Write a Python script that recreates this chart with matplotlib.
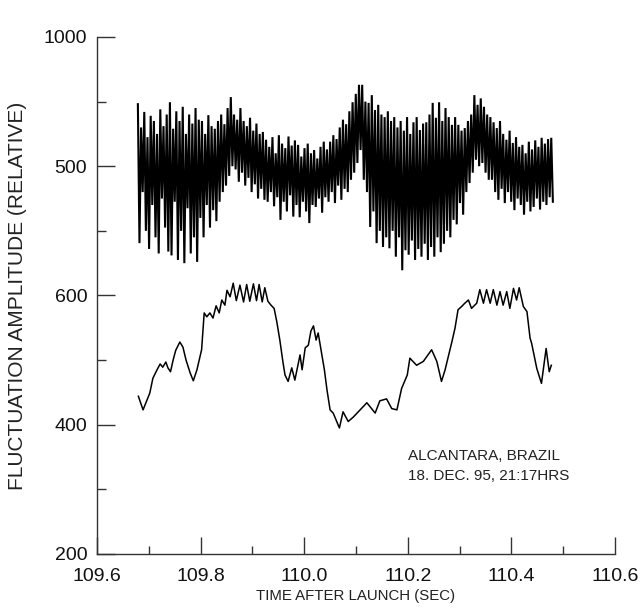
import numpy as np
import matplotlib
matplotlib.use("Agg")
from matplotlib import pyplot as plt
from matplotlib.ticker import MultipleLocator, FixedLocator, FixedFormatter

plt.rcParams['font.family'] = ['Liberation Sans', 'DejaVu Sans']

# upper trace (offset, fast fluctuation): alternating peaks / troughs
t0_alto, t1_alto = 109.679, 110.480
picos = [896, 860, 884, 845, 878, 870, 850, 888, 862, 880,
         899, 858, 885, 870, 892, 850, 880, 866, 890, 872,
         870, 850, 879, 862, 858, 870, 880, 865, 890, 907,
         880, 872, 890, 870, 862, 875, 855, 866, 850, 853,
         841, 830, 845, 820, 848, 835, 828, 846, 832, 840,
         833, 815, 828, 835, 820, 825, 812, 830, 838, 826,
         838, 848, 842, 860, 872, 865, 885, 899, 912, 926,
         926, 900, 898, 910, 887, 895, 880, 876, 885, 870,
         876, 860, 870, 855, 876, 850, 868, 876, 856, 866,
         868, 880, 898, 875, 899, 870, 890, 876, 864, 876,
         864, 855, 859, 870, 880, 910, 895, 905, 892, 880,
         876, 868, 859, 870, 850, 841, 855, 836, 845, 830,
         833, 820, 838, 826, 840, 830, 844, 835, 842, 844]
valles = [681, 760, 700, 672, 740, 690, 665, 750, 705, 668,
          662, 745, 655, 700, 650, 735, 665, 690, 652, 720,
          690, 740, 705, 732, 715, 745, 760, 770, 785, 800,
          795, 776, 790, 770, 782, 760, 772, 750, 765, 748,
          745, 760, 738, 752, 717, 745, 730, 755, 722, 740,
          721, 745, 730, 712, 740, 737, 750, 728, 752, 745,
          760, 743, 770, 748, 765, 760, 779, 790, 805, 825,
          779, 760, 706, 730, 681, 700, 675, 690, 673, 700,
          660, 690, 639, 670, 663, 685, 655, 672, 660, 680,
          655, 675, 660, 690, 667, 680, 700, 690, 717, 710,
          743, 725, 760, 774, 790, 810, 800, 805, 790, 779,
          779, 760, 748, 765, 743, 760, 745, 732, 750, 740,
          725, 745, 730, 737, 750, 733, 745, 740, 752, 745]

# lower trace (slow variation)
t_bajo = [109.680, 109.689, 109.702, 109.708, 109.716, 109.722, 109.727, 109.733,
          109.737, 109.742, 109.747, 109.752, 109.760, 109.766, 109.772, 109.780,
          109.786, 109.793, 109.802, 109.807, 109.812, 109.818, 109.824, 109.830,
          109.836, 109.841, 109.847, 109.851, 109.857, 109.863, 109.869, 109.876,
          109.883, 109.889, 109.895, 109.902, 109.908, 109.913, 109.919, 109.924,
          109.930, 109.936, 109.942, 109.947, 109.953, 109.959, 109.963, 109.969,
          109.976, 109.982, 109.992, 109.996, 110.002, 110.008, 110.013, 110.018,
          110.023, 110.027, 110.031, 110.039, 110.044, 110.050, 110.056, 110.068,
          110.075, 110.085, 110.095, 110.108, 110.121, 110.137, 110.146, 110.159,
          110.169, 110.179, 110.188, 110.199, 110.204, 110.217, 110.230, 110.246,
          110.256, 110.265, 110.272, 110.285, 110.291, 110.297, 110.304, 110.310,
          110.317, 110.323, 110.333, 110.339, 110.346, 110.352, 110.359, 110.365,
          110.372, 110.378, 110.384, 110.391, 110.397, 110.404, 110.410, 110.415,
          110.423, 110.430, 110.436, 110.439, 110.449, 110.458, 110.467, 110.473,
          110.477]
y_bajo = [444, 423, 449, 472, 485, 494, 489, 497,
          488, 482, 500, 515, 528, 520, 500, 480,
          468, 485, 516, 573, 567, 573, 565, 584,
          573, 593, 585, 608, 598, 619, 592, 616,
          590, 617, 591, 618, 592, 617, 590, 612,
          591, 585, 580, 560, 531, 497, 477, 467,
          488, 469, 508, 485, 519, 523, 545, 553,
          531, 542, 523, 485, 454, 423, 418, 395,
          420, 405, 412, 423, 434, 418, 437, 440,
          425, 423, 456, 477, 503, 492, 498, 516,
          498, 467, 485, 528, 549, 578, 583, 588,
          593, 580, 588, 609, 588, 609, 588, 609,
          585, 606, 585, 606, 580, 611, 593, 612,
          583, 575, 534, 526, 487, 464, 518, 482,
          492]

y_ticks = [200, 400, 600, 800, 1000]
y_tick_labels = ["200", "400", "600", "500", "1000"]
x_ticks = [109.6, 109.8, 110.0, 110.2, 110.4, 110.6]

y_alto = np.ravel(np.column_stack([picos, valles]))
t_alto = np.linspace(t0_alto, t1_alto, len(y_alto))

fig = plt.figure(figsize=(6.42, 6.12), dpi=100)
ax = fig.add_axes([0.151, 0.0948, 0.807, 0.8448])

ax.plot(t_alto, y_alto, color='black', lw=1.5, solid_joinstyle='miter')
ax.plot(t_bajo, y_bajo, color='black', lw=1.1)

ax.set_xlim(109.6, 110.6)
ax.set_ylim(200, 1000)
ax.spines['top'].set_visible(False)
ax.spines['right'].set_visible(False)
for s in ('left', 'bottom'):
    ax.spines[s].set_color('#333333')
    ax.spines[s].set_linewidth(1.0)

ax.xaxis.set_major_locator(FixedLocator(x_ticks))
ax.xaxis.set_minor_locator(MultipleLocator(0.1))
ax.xaxis.set_major_formatter(FixedFormatter(["%.1f" % v for v in x_ticks]))
ax.yaxis.set_major_locator(FixedLocator(y_ticks))
ax.yaxis.set_major_formatter(FixedFormatter(y_tick_labels))
ax.yaxis.set_minor_locator(FixedLocator([300, 500, 700, 900]))

ax.tick_params(axis='x', which='major', direction='in', length=12, width=1,
               color='#333333', labelsize=14, pad=10, labelcolor='#111111')
ax.tick_params(axis='x', which='minor', direction='in', length=6, width=1, color='#333333')
ax.tick_params(axis='y', which='major', direction='in', length=13, width=1,
               color='#333333', labelsize=14, pad=7, labelcolor='#111111')
ax.tick_params(axis='y', which='minor', direction='in', length=6.5, width=1, color='#333333')

ax.set_xlabel("TIME AFTER LAUNCH (SEC)", fontsize=10.8, color='#222222', labelpad=3)
ax.set_ylabel("FLUCTUATION AMPLITUDE (RELATIVE)", fontsize=15, color='#222222', labelpad=12)

ax.text(110.2, 362, "ALCANTARA, BRAZIL\n18. DEC. 95, 21:17HRS", fontsize=11,
        color='#222222', ha='left', va='top', linespacing=1.5)

fig.savefig("out.png", dpi=100)
